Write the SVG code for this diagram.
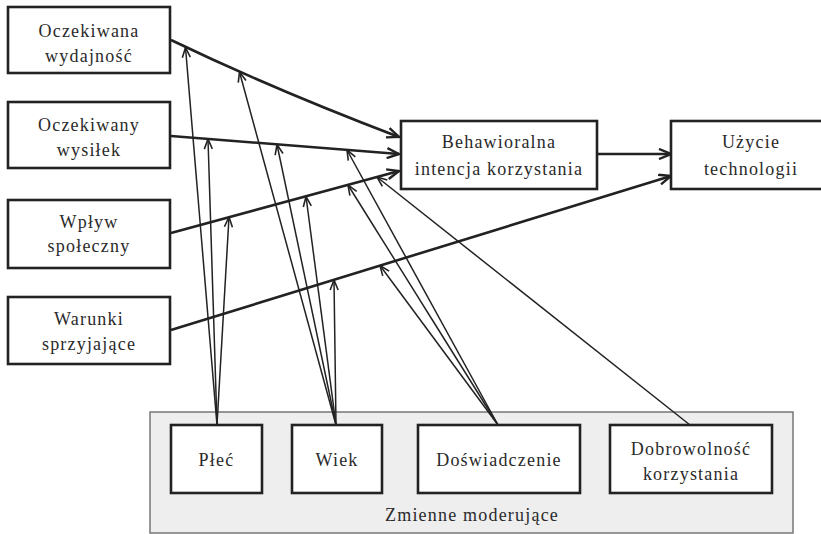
<svg xmlns="http://www.w3.org/2000/svg" width="821" height="534" viewBox="0 0 821 534">
  <style>
    .box { fill: #ffffff; stroke: #222222; stroke-width: 2.6; }
    .group { fill: #eeeeee; stroke: #777777; stroke-width: 1.5; }
    .lbl { font-family: "Liberation Serif", "Times New Roman", serif; font-size: 18px; letter-spacing: 1.2px; fill: #2a2a2a; text-anchor: middle; }
    .main { fill: none; stroke: #222222; stroke-width: 2.6; marker-end: url(#headBig); }
    .mod { fill: none; stroke: #222222; stroke-width: 1.5; marker-end: url(#headSmall); }
  </style>
  <defs>
    <marker id="headBig" markerUnits="userSpaceOnUse" viewBox="0 0 14 12" refX="13" refY="6" markerWidth="14" markerHeight="12" orient="auto">
      <path d="M1,1 L13,6 L1,11" fill="none" stroke="#222222" stroke-width="2.4" stroke-linejoin="miter"/>
    </marker>
    <marker id="headSmall" markerUnits="userSpaceOnUse" viewBox="0 0 12 10" refX="11" refY="5" markerWidth="12" markerHeight="10" orient="auto">
      <path d="M1,1 L11,5 L1,9" fill="none" stroke="#222222" stroke-width="1.6"/>
    </marker>
  </defs>

  <!-- moderator container -->
  <g id="moderatory">
    <rect class="group" x="150" y="412" width="643" height="121"/>
    <text class="lbl" x="472" y="521">Zmienne moderujące</text>
  </g>

  <!-- predictor nodes -->
  <g id="oczekiwana-wydajnosc">
    <rect class="box" x="8" y="7" width="162" height="66"/>
    <text class="lbl" x="89" y="37">Oczekiwana</text>
    <text class="lbl" x="89" y="62">wydajność</text>
  </g>
  <g id="oczekiwany-wysilek">
    <rect class="box" x="8" y="102" width="162" height="66"/>
    <text class="lbl" x="89" y="131">Oczekiwany</text>
    <text class="lbl" x="89" y="156">wysiłek</text>
  </g>
  <g id="wplyw-spoleczny">
    <rect class="box" x="8" y="200" width="162" height="68"/>
    <text class="lbl" x="89" y="228">Wpływ</text>
    <text class="lbl" x="89" y="252">społeczny</text>
  </g>
  <g id="warunki-sprzyjajace">
    <rect class="box" x="8" y="297" width="162" height="67"/>
    <text class="lbl" x="89" y="325">Warunki</text>
    <text class="lbl" x="89" y="350">sprzyjające</text>
  </g>

  <!-- outcome nodes -->
  <g id="intencja">
    <rect class="box" x="401" y="121" width="196" height="68"/>
    <text class="lbl" x="499" y="148">Behawioralna</text>
    <text class="lbl" x="499" y="175">intencja korzystania</text>
  </g>
  <g id="uzycie">
    <rect class="box" x="671" y="121" width="160" height="68"/>
    <text class="lbl" x="751" y="148">Użycie</text>
    <text class="lbl" x="751" y="175">technologii</text>
  </g>

  <!-- moderator nodes -->
  <g id="plec">
    <rect class="box" x="171" y="425" width="91" height="68"/>
    <text class="lbl" x="216.5" y="466">Płeć</text>
  </g>
  <g id="wiek">
    <rect class="box" x="292" y="425" width="90" height="68"/>
    <text class="lbl" x="337" y="466">Wiek</text>
  </g>
  <g id="doswiadczenie">
    <rect class="box" x="418" y="425" width="162" height="68"/>
    <text class="lbl" x="499" y="466">Doświadczenie</text>
  </g>
  <g id="dobrowolnosc">
    <rect class="box" x="610" y="425" width="162" height="68"/>
    <text class="lbl" x="691" y="455">Dobrowolność</text>
    <text class="lbl" x="691" y="480">korzystania</text>
  </g>

  <!-- connectors -->
  <g id="connectors">
    <!-- main paths -->
    <path class="main" d="M171,40 Q275,90 399,137"/>
    <path class="main" d="M171,136 L399,154"/>
    <path class="main" d="M171,233 L399,171"/>
    <path class="main" d="M171,330 L671,176"/>
    <path class="main" d="M597,154 L671,154"/>
    <!-- Płeć -->
    <path class="mod" d="M217,425 L185.5,47.5"/>
    <path class="mod" d="M217,425 L208,139"/>
    <path class="mod" d="M217,425 L229,217"/>
    <!-- Wiek -->
    <path class="mod" d="M336,425 L239.5,72"/>
    <path class="mod" d="M336,425 L277,144.5"/>
    <path class="mod" d="M336,425 L306,196.5"/>
    <path class="mod" d="M336,425 L334,280"/>
    <!-- Doświadczenie -->
    <path class="mod" d="M498,425 L347,150"/>
    <path class="mod" d="M498,425 L348,185"/>
    <path class="mod" d="M498,425 L380,265.5"/>
    <!-- Dobrowolność -->
    <path class="mod" d="M690,425 L377,177"/>
  </g>
</svg>
